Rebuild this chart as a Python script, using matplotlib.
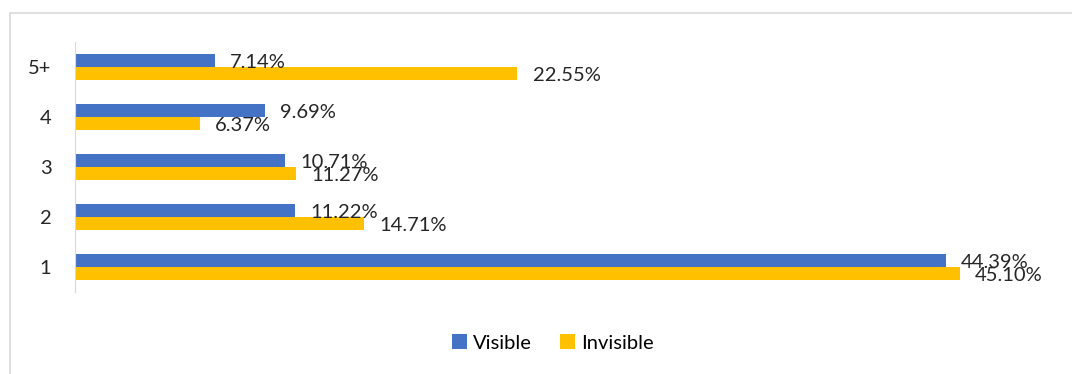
import matplotlib
matplotlib.use("Agg")
import matplotlib.pyplot as plt
import numpy as np
from matplotlib.patches import Rectangle

categories = ["1", "2", "3", "4", "5+"]
visible = [44.39, 11.22, 10.71, 9.69, 7.14]
invisible = [45.10, 14.71, 11.27, 6.37, 22.55]

BLUE = "#4472C4"
YELLOW = "#FFC000"

plt.rcParams["font.family"] = ["Lato", "DejaVu Sans"]

fig = plt.figure(figsize=(10.72, 3.74), dpi=100)
ax = fig.add_axes([75 / 1072, 1 - 292 / 374, (1056 - 75) / 1072, 250 / 374])

# light frame around the chart area
fig.patches.append(Rectangle((10 / 1072, -0.01), 1.1, 1 - 13 / 374 + 0.01,
                             transform=fig.transFigure, fill=False,
                             edgecolor="#D9D9D9", linewidth=1.2))

y = np.arange(len(categories))
h = 0.26
ax.barh(y + h / 2, visible, height=h, color=BLUE, label="Visible")
ax.barh(y - h / 2, invisible, height=h, color=YELLOW, label="Invisible")

for yi, v in zip(y, visible):
    ax.annotate(f"{v:.2f}%", (v, yi + h / 2), xytext=(11, -1.5),
                textcoords="offset points", ha="left", va="center",
                fontsize=14.5, color="#262626")
for yi, v in zip(y, invisible):
    ax.annotate(f"{v:.2f}%", (v, yi - h / 2), xytext=(11, -1.5),
                textcoords="offset points", ha="left", va="center",
                fontsize=14.5, color="#262626")

ax.set_xlim(0, 50)
ax.set_ylim(-0.5, 4.5)
ax.set_yticks(y)
ax.set_yticklabels(categories, fontsize=14.5, color="#262626")
ax.tick_params(axis="y", length=0, pad=17)
ax.set_xticks([])
for side in ["top", "right", "bottom"]:
    ax.spines[side].set_visible(False)
ax.spines["left"].set_color("#D9D9D9")

fig.legend(loc="center", bbox_to_anchor=(553 / 1072, 1 - 343 / 374), ncol=2,
           frameon=False, fontsize=14.5, handlelength=0.75, handleheight=0.75,
           columnspacing=1.4, handletextpad=0.3)

fig.savefig("out.png", dpi=100, facecolor="white")
